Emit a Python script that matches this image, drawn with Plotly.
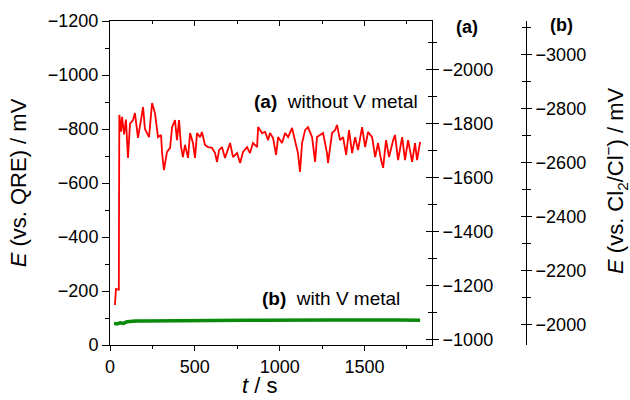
import plotly.graph_objects as go

# Potential transient, no V metal (E vs. QRE, mV)
t_a = [29, 35, 52, 53, 55, 65, 71, 83, 94, 106, 118, 136, 147, 165, 177, 195, 206, 218, 230,
       248, 265, 283, 301, 307, 318, 336, 354, 366, 383, 395, 407, 419, 430, 442, 460, 472,
       489, 501, 513, 531, 542, 560, 578, 601, 619, 631, 643, 660, 678, 708, 725, 749, 767,
       784, 808, 825, 843, 867, 873, 896, 914, 932, 943, 961, 979, 991, 1014, 1032, 1050,
       1073, 1091, 1108, 1120, 1132, 1150, 1167, 1191, 1209, 1220, 1238, 1256, 1279, 1285,
       1309, 1327, 1338, 1356, 1374, 1392, 1409, 1427, 1445, 1462, 1486, 1504, 1521, 1545,
       1563, 1580, 1598, 1610, 1627, 1645, 1669, 1680, 1698, 1722, 1739, 1757, 1781, 1798,
       1810, 1828]
E_a = [-148, -207, -205, -852, -852, -790, -845, -780, -835, -693, -820, -833, -859, -767,
       -810, -881, -800, -785, -770, -896, -859, -770, -778, -711, -648, -715, -730, -807,
       -833, -759, -833, -733, -696, -741, -693, -785, -748, -693, -785, -770, -789, -741,
       -733, -730, -711, -678, -722, -733, -693, -748, -696, -711, -674, -715, -733, -711,
       -748, -733, -807, -785, -789, -759, -785, -767, -704, -770, -748, -785, -770, -804,
       -759, -711, -641, -748, -796, -807, -770, -678, -770, -778, -785, -711, -674, -785,
       -796, -815, -759, -770, -704, -796, -711, -770, -722, -807, -733, -789, -770, -696,
       -748, -685, -656, -759, -696, -759, -778, -685, -770, -685, -759, -678, -748, -685,
       -752]

# Potential transient, with V metal
t_b = [24, 40, 60, 80, 100, 120, 150, 200, 300, 400, 500, 600, 700, 800, 900, 1000, 1100,
       1200, 1300, 1400, 1500, 1600, 1700, 1828]
E_b = [-80, -78, -82, -80, -86, -88, -89, -89, -90, -90, -91, -91, -92, -92, -92, -93, -92,
       -93, -93, -93, -92, -93, -93, -92]

FONT = "Liberation Sans, Arial, sans-serif"
L, R, T, B = 110, 0, 21, 55
W, H = 630, 400
PW, PH = W - L - R, H - T - B
X_END = 432
XD = (X_END - L) / PW
B_POS = (526 - L) / PW


def px(xp):
    return (xp - L) / PW


def py(yp):
    return (H - B - yp) / PH


fig = go.Figure()
fig.add_trace(go.Scatter(x=t_a, y=E_a, mode="lines", line=dict(color="#ff0000", width=1.8),
                         showlegend=False))
fig.add_trace(go.Scatter(x=t_b, y=E_b, mode="lines", line=dict(color="#0a8a0a", width=3.5),
                         showlegend=False))
# empty traces so the overlay axes (top frame, right scales) get drawn
for xa, ya in [("x2", "y"), ("x", "y2"), ("x", "y3"), ("x", "y4"), ("x", "y5")]:
    fig.add_trace(go.Scatter(x=[], y=[], xaxis=xa, yaxis=ya, mode="lines",
                             showlegend=False, hoverinfo="skip"))

common = dict(showline=True, linecolor="black", linewidth=1, showgrid=False, zeroline=False,
              tickcolor="black", tickwidth=1,
              tickfont=dict(size=18, color="black", family=FONT))

fig.update_layout(
    width=W, height=H, margin=dict(l=L, r=R, t=T, b=B, autoexpand=False),
    paper_bgcolor="white", plot_bgcolor="white",
    font=dict(family=FONT, color="black"),
    xaxis=dict(domain=[0, XD], range=[0, 1898], dtick=500, tick0=0, ticks="outside", ticklen=5,
               minor=dict(dtick=250, ticks="outside", ticklen=3, tickcolor="black"),
               anchor="y", automargin=False, **common),
    xaxis2=dict(domain=[0, XD], range=[0, 1898], dtick=500, tick0=0, ticks="inside", ticklen=5,
                minor=dict(dtick=250, ticks="inside", ticklen=3, tickcolor="black"),
                overlaying="x", side="top", anchor="y", showticklabels=False,
                automargin=False, **common),
    yaxis=dict(range=[0, -1200], dtick=200, tick0=0, ticks="outside", ticklen=7,
               minor=dict(dtick=100, ticks="outside", ticklen=4, tickcolor="black"),
               title=dict(text="<i>E</i> (vs. QRE) / mV", font=dict(size=22)),
               anchor="x", automargin=False, **common),
    yaxis2=dict(range=[-980, -2180], dtick=200, tick0=-1000, ticks="outside", ticklen=6,
                minor=dict(dtick=100, ticks="outside", ticklen=4, tickcolor="black"),
                overlaying="y", side="right", anchor="x", automargin=False, **common),
    yaxis3=dict(range=[-980, -2180], dtick=200, tick0=-1000, ticks="inside", ticklen=6,
                minor=dict(dtick=100, ticks="inside", ticklen=4, tickcolor="black"),
                overlaying="y", side="right", anchor="x", showticklabels=False,
                automargin=False, **common),
    yaxis4=dict(range=[-1925, -3125], dtick=200, tick0=-2000, ticks="outside", ticklen=5,
                minor=dict(dtick=100, ticks="outside", ticklen=4, tickcolor="black"),
                overlaying="y", side="right", anchor="free", position=B_POS,
                automargin=False, **common),
    yaxis5=dict(range=[-1925, -3125], dtick=200, tick0=-2000, ticks="inside", ticklen=5,
                minor=dict(dtick=100, ticks="inside", ticklen=4, tickcolor="black"),
                overlaying="y", side="right", anchor="free", position=B_POS,
                showticklabels=False, automargin=False, **common),
)

ann = [
    ("<b>(a)</b>  without V metal", 420, 101, "right", 19, 0),
    ("<b>(b)</b>  with V metal", 402, 298, "right", 19, 0),
    ("<b>(a)</b>", 467, 27, "center", 18, 0),
    ("<b>(b)</b>", 561, 25, "center", 18, 0),
    ("<i>t</i> / s", 259, 386, "center", 22, 0),
    ("<i>E</i> (vs. Cl<sub>2</sub>/Cl<sup>−</sup>) / mV", 615, 181, "center", 22, -90),
]
for text, xp, yp, anchor, size, ang in ann:
    fig.add_annotation(text=text, x=px(xp), y=py(yp), xref="paper", yref="paper",
                       xanchor=anchor, yanchor="middle", showarrow=False, textangle=ang,
                       font=dict(size=size, color="black", family=FONT))

fig.write_html("out.html")
